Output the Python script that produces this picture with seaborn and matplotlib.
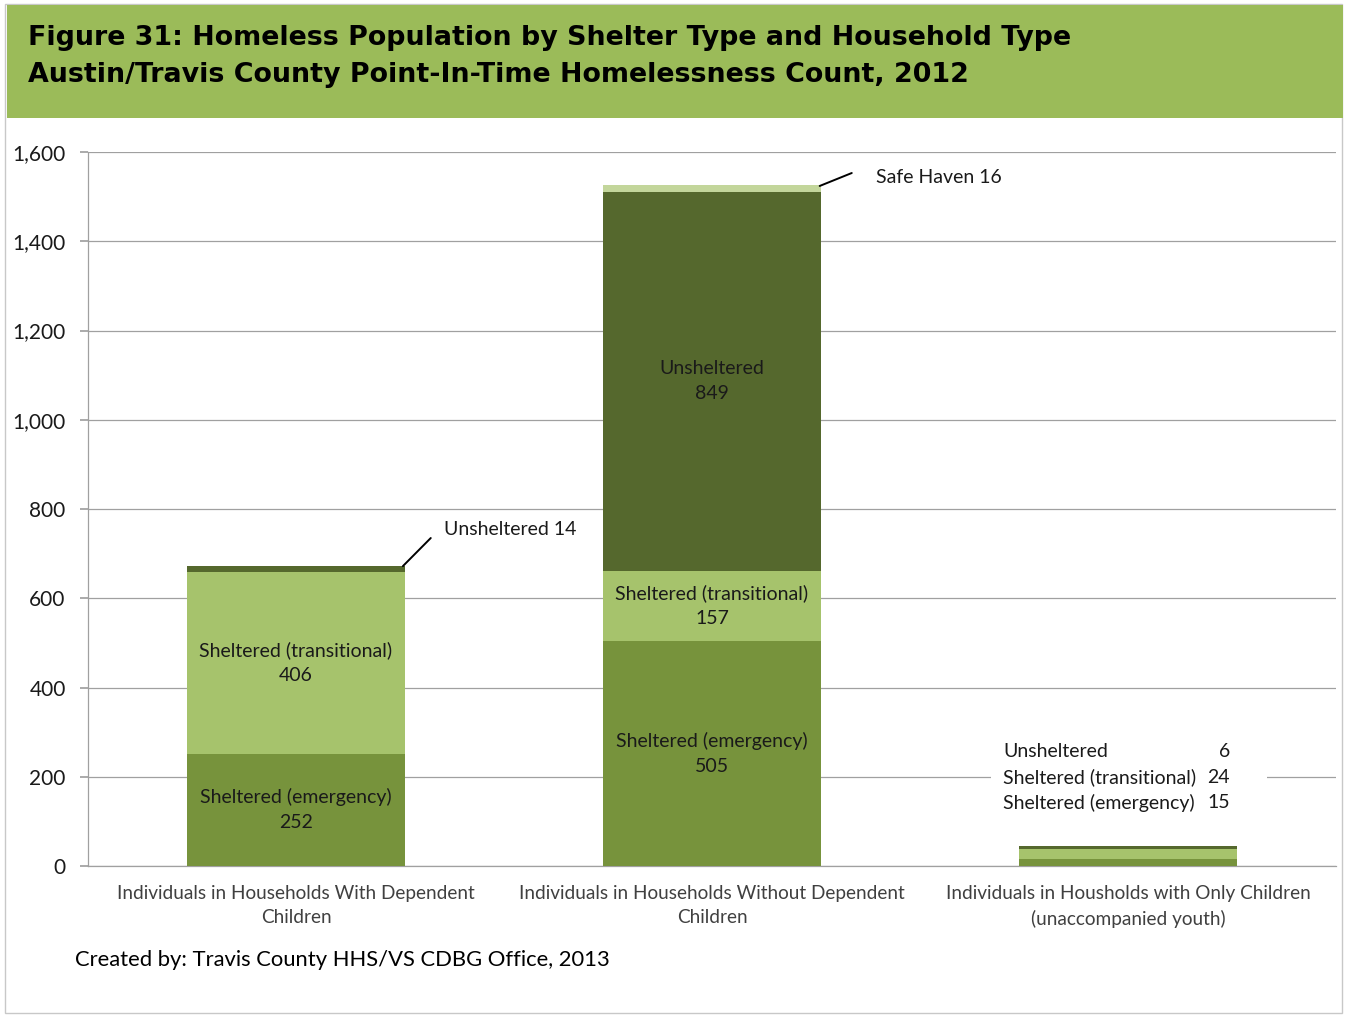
import matplotlib
matplotlib.use("Agg")
import matplotlib.pyplot as plt
import seaborn as sns
import pandas as pd
import numpy as np
from matplotlib.patches import Rectangle

categories = ["Individuals in Households With Dependent\nChildren",
              "Individuals in Households Without Dependent\nChildren",
              "Individuals in Housholds with Only Children\n(unaccompanied youth)"]
emergency = [252, 505, 15]
transitional = [406, 157, 24]
unsheltered = [14, 849, 6]
safe_haven = [0, 16, 0]

layers = ["Sheltered (emergency)", "Sheltered (transitional)", "Unsheltered", "Safe Haven"]
colors = ["#77933C", "#A6C36C", "#55682D", "#C3D69B"]


def main():
    sns.set_theme(style="white")
    plt.rcParams['font.family'] = ['Lato', 'DejaVu Sans']

    df = pd.DataFrame({"category": categories,
                       layers[0]: emergency, layers[1]: transitional,
                       layers[2]: unsheltered, layers[3]: safe_haven})
    cum = df[layers].cumsum(axis=1)

    fig = plt.figure(figsize=(13.45, 10.15), dpi=100)
    ax = fig.add_axes([0.0654, 0.1468, 0.9279, 0.7034])

    # frame + header band
    fig.patches.append(Rectangle((0.004, 0.002), 0.994, 0.994, transform=fig.transFigure,
                                 fill=False, edgecolor="#C8C8C8", lw=1))
    fig.patches.append(Rectangle((0.0052, 0.884), 0.9933, 0.111, transform=fig.transFigure,
                                 facecolor="#9BBB59", edgecolor="none"))
    fig.text(0.021, 0.963, "Figure 31: Homeless Population by Shelter Type and Household Type",
             fontsize=19.4, fontweight="bold", color="black", va="center", family=['DejaVu Sans'])
    fig.text(0.021, 0.926, "Austin/Travis County Point-In-Time Homelessness Count, 2012",
             fontsize=19.4, fontweight="bold", color="black", va="center", family=['DejaVu Sans'])

    # stacked bars: draw cumulative totals from top down
    for layer, col in reversed(list(zip(layers, colors))):
        sns.barplot(x=df["category"], y=cum[layer], color=col, width=0.523,
                    saturation=1, ax=ax, zorder=3, edgecolor="none", linewidth=0)

    ax.set_ylim(0, 1600)
    ax.set_xlim(-0.5, 2.5)
    ax.set_yticks(np.arange(0, 1601, 200))
    ax.set_yticklabels([f"{v:,}" for v in range(0, 1601, 200)], fontsize=15, color="#1a1a1a")
    ax.set_xticks(range(3))
    ax.set_xticklabels(categories, fontsize=13.7, color="#404040", linespacing=1.5)
    ax.set_xticks([-0.5, 0.5, 1.5, 2.5], minor=True)
    ax.tick_params(axis="x", which="major", length=0, pad=14)
    ax.tick_params(axis="x", which="minor", length=6, color="#A0A0A0", direction="out")
    ax.tick_params(axis="y", length=6, color="#A0A0A0", direction="out", left=True, pad=10)
    ax.set_xlabel("")
    ax.set_ylabel("")
    ax.yaxis.grid(True, color="#A0A0A0", lw=0.9)
    ax.set_axisbelow(True)
    for s in ["top", "right"]:
        ax.spines[s].set_visible(False)
    for s in ["left", "bottom"]:
        ax.spines[s].set_color("#A0A0A0")
        ax.spines[s].set_linewidth(0.9)

    # segment labels
    lab_kw = dict(ha="center", va="center", fontsize=14, color="#1a1a1a", linespacing=1.55, zorder=5)
    for i in range(2):
        ax.text(i, emergency[i] / 2, f"Sheltered (emergency)\n{emergency[i]}", **lab_kw)
        ax.text(i, emergency[i] + transitional[i] / 2,
                f"Sheltered (transitional)\n{transitional[i]}", **lab_kw)
    ax.text(1, emergency[1] + transitional[1] + unsheltered[1] / 2,
            f"Unsheltered\n{unsheltered[1]}", **lab_kw)

    # callouts
    top0 = emergency[0] + transitional[0] + unsheltered[0]
    ax.plot([0.257, 0.324], [top0, 735], color="black", lw=1.4, zorder=6, clip_on=False)
    ax.text(0.355, 755, f"Unsheltered {unsheltered[0]}", fontsize=14, color="#1a1a1a",
            va="center", ha="left")
    top1 = cum[layers[3]][1]
    ax.plot([1.259, 1.336], [top1 - 3, 1553], color="black", lw=1.4, zorder=6, clip_on=False)
    ax.text(1.394, 1544, f"Safe Haven {safe_haven[1]}", fontsize=14, color="#1a1a1a",
            va="center", ha="left")

    # small-bar label block (white background breaks the gridline)
    ax.add_patch(Rectangle((1.67, 170), 0.665, 60, facecolor="white", edgecolor="none", zorder=2))
    names = [layers[2], layers[1], layers[0]]
    vals = [unsheltered[2], transitional[2], emergency[2]]
    for k, (n, v) in enumerate(zip(names, vals)):
        y = 256 - k * 57
        ax.text(1.70, y, n, ha="left", va="center", fontsize=14, color="#1a1a1a", zorder=5)
        ax.text(2.245, y, str(v), ha="right", va="center", fontsize=14, color="#1a1a1a", zorder=5)

    fig.text(0.056, 0.054, "Created by: Travis County HHS/VS CDBG Office, 2013",
             fontsize=15.8, color="black", va="center")

    plt.savefig("out.png", dpi=100)


if __name__ == '__main__':
    main()
